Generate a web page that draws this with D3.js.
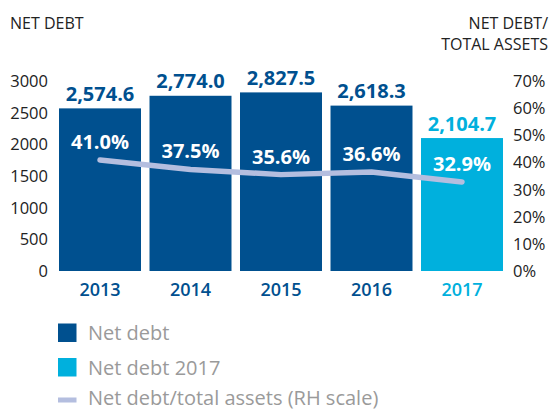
<!DOCTYPE html>
<html>
<head>
<meta charset="utf-8">
<script src="https://cdn.jsdelivr.net/npm/d3@7/dist/d3.min.js"></script>
<style>
body { margin: 0; background: #fff; }
svg { display: block; font-family: "Open Sans", sans-serif; }
</style>
</head>
<body>
<svg id="chart" width="549" height="409"></svg>
<script>
const years = ["2013", "2014", "2015", "2016", "2017"];
const netDebt = [2574.6, 2774.0, 2827.5, 2618.3, 2104.7];
const ratio = [41.0, 37.5, 35.6, 36.6, 32.9];
const leftTicks = [0, 500, 1000, 1500, 2000, 2500, 3000];
const rightTicks = [0, 10, 20, 30, 40, 50, 60, 70];
const legendLabels = ["Net debt", "Net debt 2017", "Net debt/total assets (RH scale)"];

const DARK = "#00508f", LIGHT = "#00b0dd", LINE = "#b4bedf", TEXT = "#222", GREY = "#9a9a9a";

const svg = d3.select("#chart");
const x = d3.scaleBand().domain(years).range([54.75, 507.25]).paddingInner(0.094).paddingOuter(0.047);
const y = d3.scaleLinear().domain([0, 3000]).range([271, 81.5]);
const yr = d3.scaleLinear().domain([0, 70]).range([271, 81.5]);
const col = (d, i) => i === years.length - 1 ? LIGHT : DARK;

// headers
svg.append("text").attr("x", 10).attr("y", 29).attr("font-size", 16).attr("fill", TEXT).text("NET DEBT");
svg.append("text").attr("x", 548).attr("y", 29).attr("font-size", 16).attr("fill", TEXT).attr("text-anchor", "end").text("NET DEBT/");
svg.append("text").attr("x", 548).attr("y", 50).attr("font-size", 16).attr("fill", TEXT).attr("text-anchor", "end").text("TOTAL ASSETS");

// left axis
const la = svg.append("g").attr("transform", "translate(48,0)")
  .call(d3.axisLeft(y).tickValues(leftTicks).tickSize(0).tickPadding(0).tickFormat(d3.format("d")));
la.select(".domain").remove();
la.selectAll("text").attr("font-size", 16.5).attr("fill", TEXT).attr("font-family", "Open Sans").attr("dy", "0.32em");

// right axis
const ra = svg.append("g").attr("transform", "translate(513,0)")
  .call(d3.axisRight(yr).tickValues(rightTicks).tickSize(0).tickPadding(0).tickFormat(d => d + "%"));
ra.select(".domain").remove();
ra.selectAll("text").attr("font-size", 16.5).attr("fill", TEXT).attr("font-family", "Open Sans").attr("dy", "0.32em");

// bars
svg.selectAll("rect.bar").data(netDebt).join("rect").attr("class", "bar")
  .attr("x", (d, i) => x(years[i])).attr("width", x.bandwidth())
  .attr("y", d => y(d)).attr("height", d => y(0) - y(d))
  .attr("fill", col);

// value labels
svg.selectAll("text.val").data(netDebt).join("text").attr("class", "val")
  .attr("x", (d, i) => x(years[i]) + x.bandwidth() / 2).attr("y", d => y(d) - 7.5)
  .attr("text-anchor", "middle").attr("font-size", 20).attr("font-weight", 700)
  .attr("fill", col).text(d => d3.format(",.1f")(d));

// year labels
svg.selectAll("text.yr").data(years).join("text").attr("class", "yr")
  .attr("x", d => x(d) + x.bandwidth() / 2).attr("y", 296)
  .attr("text-anchor", "middle").attr("font-size", 18).attr("font-weight", 600)
  .attr("fill", (d, i) => col(d, i)).text(d => d);

// line
const line = d3.line().x((d, i) => x(years[i]) + x.bandwidth() / 2).y(d => yr(d));
svg.append("path").datum(ratio).attr("d", line).attr("fill", "none")
  .attr("stroke", LINE).attr("stroke-width", 5.5).attr("stroke-linecap", "round").attr("stroke-linejoin", "round");

// percent labels
svg.selectAll("text.pct").data(ratio).join("text").attr("class", "pct")
  .attr("x", (d, i) => x(years[i]) + x.bandwidth() / 2).attr("y", d => yr(d) - 11)
  .attr("text-anchor", "middle").attr("font-size", 20).attr("font-weight", 700)
  .attr("fill", "#fff").text(d => d.toFixed(1) + "%");

// legend
const lg = svg.append("g");
const rows = [340, 375, 404.5];
lg.append("rect").attr("x", 58).attr("y", 323.5).attr("width", 18.5).attr("height", 18.5).attr("fill", DARK);
lg.append("rect").attr("x", 58).attr("y", 358).attr("width", 18.5).attr("height", 18.5).attr("fill", LIGHT);
lg.append("rect").attr("x", 58).attr("y", 397.5).attr("width", 18.5).attr("height", 5).attr("fill", LINE);
lg.selectAll("text").data(legendLabels).join("text")
  .attr("x", 88).attr("y", (d, i) => rows[i]).attr("font-size", 20).attr("fill", GREY).text(d => d);
</script>
</body>
</html>
